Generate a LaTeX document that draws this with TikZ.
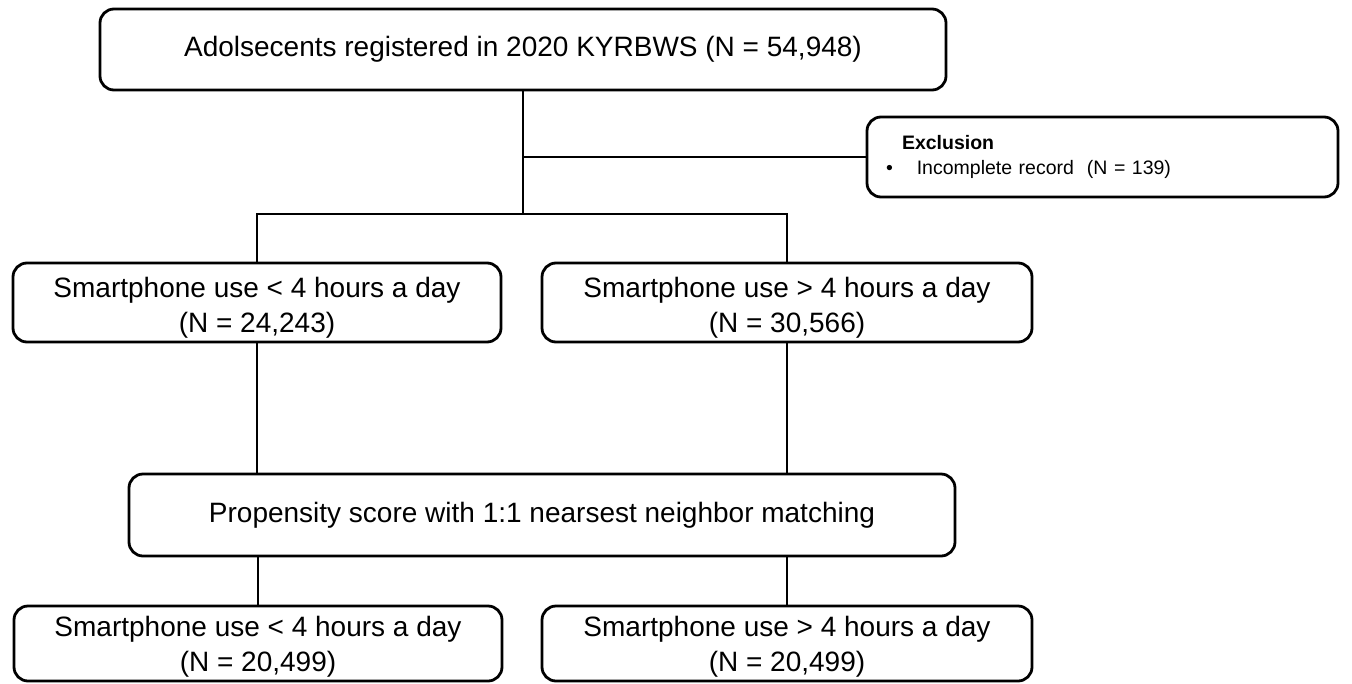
\documentclass[tikz,border=0pt]{standalone}
\usepackage{fontspec}
\setmainfont{Liberation Sans}
\begin{document}
\begin{tikzpicture}[x=1pt,y=-1pt,
  box/.style={draw, line width=2.8pt, rounded corners=14pt, inner sep=0pt, align=center,
    font=\fontsize{28}{35}\selectfont},
  conn/.style={line width=1.5pt}]
\useasboundingbox (0,0) rectangle (1352,683);
\node[box, minimum width=846pt, minimum height=81pt] (top) at (523,49.5)
  {Adolsecents registered in 2020 KYRBWS (N = 54,948)};
\node[box, minimum width=471pt, minimum height=80pt, text width=433pt, align=left,
  font=\fontsize{19.5}{25}\selectfont] (excl) at (1102.5,157)
  {\hspace*{16pt}\textbf{Exclusion}\\ •\hspace{24pt}Incomplete record\ \ (N = 139)};
\node[box, minimum width=488pt, minimum height=79pt] (L1) at (257,302.5)
  {\rule{0pt}{30pt}Smartphone use < 4 hours a day\\(N = 24,243)};
\node[box, minimum width=490pt, minimum height=79pt] (R1) at (787,302.5)
  {\rule{0pt}{30pt}Smartphone use > 4 hours a day\\(N = 30,566)};
\node[box, minimum width=826pt, minimum height=82pt] (prop) at (542,515)
  {Propensity score with 1:1 nearsest neighbor matching};
\node[box, minimum width=488pt, minimum height=75pt] (L2) at (258,643.5)
  {\rule{0pt}{26pt}Smartphone use < 4 hours a day\\(N = 20,499)};
\node[box, minimum width=490pt, minimum height=75pt] (R2) at (787,643.5)
  {\rule{0pt}{26pt}Smartphone use > 4 hours a day\\(N = 20,499)};
\coordinate (split) at (523,214);
\draw[conn] (top.south) -- (split);
\draw[conn] (top.south |- excl.west) -- (excl.west);
\draw[conn] (L1.north) -- (L1.north |- split) -- (R1.north |- split) -- (R1.north);
\draw[conn] (L1.south) -- (L1.south |- prop.north);
\draw[conn] (R1.south) -- (R1.south |- prop.north);
\draw[conn] (prop.south -| L2.north) -- (L2.north);
\draw[conn] (prop.south -| R2.north) -- (R2.north);
\end{tikzpicture}
\end{document}
